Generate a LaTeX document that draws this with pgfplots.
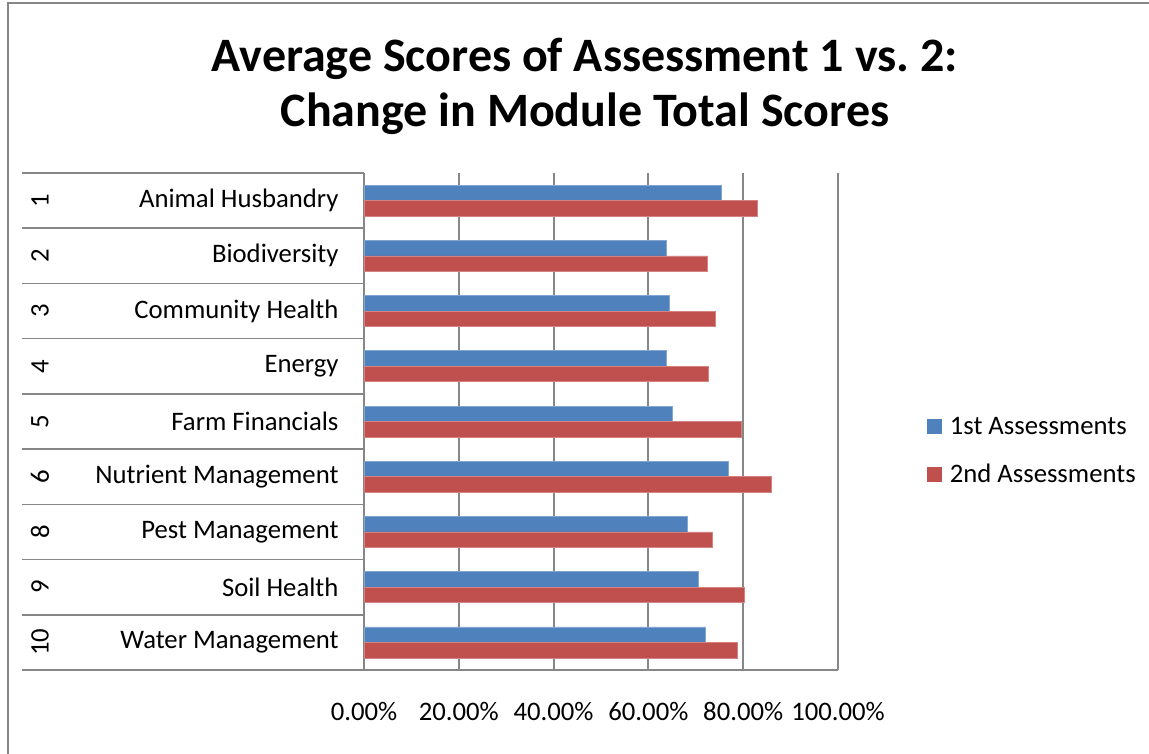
\documentclass[border=0pt]{standalone}
\usepackage{pgfplots}
\pgfplotsset{compat=1.18}
\usepackage{fontspec}
\setmainfont{Carlito}
\definecolor{xblue}{HTML}{4F81BD}
\definecolor{xred}{HTML}{C0504D}
\definecolor{xgrid}{HTML}{878787}
\newcommand{\lblfont}{\fontsize{26.7}{32}\selectfont\rmfamily}
\begin{document}
\begin{tikzpicture}
\useasboundingbox (-364pt,-83pt) rectangle (785pt,670pt);
\begin{axis}[
  at={(0pt,0pt)}, anchor=south west,
  scale only axis, width=474pt, height=497pt,
  xbar, bar width=15.5pt,
  clip=false,
  xmin=0, xmax=100, ymin=-0.5, ymax=8.5,
  xtick={0,20,...,100},
  xticklabels={0.00\%,20.00\%,40.00\%,60.00\%,80.00\%,100.00\%},
  ytick={0,...,8},
  yticklabels={Water Management, Soil Health, Pest Management, Nutrient Management, Farm Financials, Energy, Community Health, Biodiversity, Animal Husbandry},
  major tick length=0pt,
  xmajorgrids, grid style={xgrid, line width=2pt},
  axis lines*=left, axis line style={xgrid, line width=1.5pt},
  font=\lblfont,
  xticklabel style={yshift=-29pt, font=\lblfont},
  yticklabel style={anchor=east, xshift=-22pt, font=\lblfont},
  legend style={at={(1.1878,0.4416)}, anchor=west, draw=none, fill=none,
    inner sep=0pt, row sep=24pt, font=\lblfont},
  legend cell align=left,
]
\addplot[fill=xblue, draw=xblue!70!white, line width=0.6pt, bar shift=7.75pt,
  legend image code/.code={\fill[xblue] (0pt,-7pt) rectangle (14pt,7pt); \path (20pt,0pt);}]
  coordinates {(75.3,8) (63.7,7) (64.5,6) (63.8,5) (65.0,4) (76.8,3) (68.3,2) (70.6,1) (72.1,0)};
\addlegendentry{1st Assessments}
\addplot[fill=xred, draw=xred!70!white, line width=0.6pt, bar shift=-7.75pt,
  legend image code/.code={\fill[xred] (0pt,-7pt) rectangle (14pt,7pt); \path (20pt,0pt);}]
  coordinates {(83.0,8) (72.5,7) (74.2,6) (72.6,5) (79.7,4) (86.0,3) (73.5,2) (80.2,1) (78.7,0)};
\addlegendentry{2nd Assessments}
\foreach \b in {8.5,7.5,6.5,5.5,4.5,3.5,2.5,1.5,0.5,-0.5} {
  \edef\tmp{\noexpand\draw[xgrid, line width=1.5pt] ([xshift=-342pt]axis cs:0,\b) -- (axis cs:0,\b);}
  \tmp
}
\node[rotate=90, font=\lblfont] at ([xshift=-324pt]axis cs:0,8) {1};
\node[rotate=90, font=\lblfont] at ([xshift=-324pt]axis cs:0,7) {2};
\node[rotate=90, font=\lblfont] at ([xshift=-324pt]axis cs:0,6) {3};
\node[rotate=90, font=\lblfont] at ([xshift=-324pt]axis cs:0,5) {4};
\node[rotate=90, font=\lblfont] at ([xshift=-324pt]axis cs:0,4) {5};
\node[rotate=90, font=\lblfont] at ([xshift=-324pt]axis cs:0,3) {6};
\node[rotate=90, font=\lblfont] at ([xshift=-324pt]axis cs:0,2) {8};
\node[rotate=90, font=\lblfont] at ([xshift=-324pt]axis cs:0,1) {9};
\node[rotate=90, font=\lblfont] at ([xshift=-324pt]axis cs:0,0) {10};
\end{axis}
\draw[xgrid, line width=2pt] (-356pt,-120pt) rectangle (820pt,667pt);
\node[font=\bfseries\fontsize{48}{55}\selectfont, align=center, anchor=base] at (221pt,543pt)
  {Average Scores of Assessment 1 vs.\ 2:\\Change in Module Total Scores};
\end{tikzpicture}
\end{document}
